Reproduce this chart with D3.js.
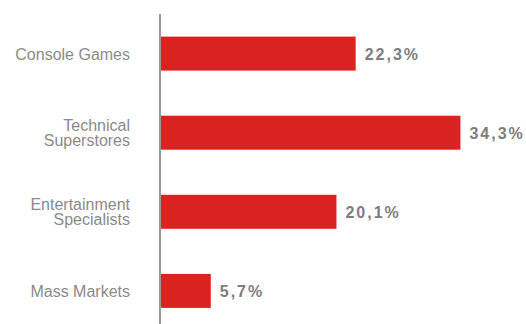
<!DOCTYPE html>
<html>
<head>
<meta charset="utf-8">
<script src="https://cdn.jsdelivr.net/npm/d3@7/dist/d3.min.js"></script>
<style>
  html, body { margin: 0; padding: 0; background: #fff; }
  svg { display: block; }
</style>
</head>
<body>
<div id="chart"></div>
<script>
// Market share by retail channel
const categories = [
  ["Console Games"],
  ["Technical", "Superstores"],
  ["Entertainment", "Specialists"],
  ["Mass Markets"]
];
const categoryKeys = ["Console Games", "Technical Superstores", "Entertainment Specialists", "Mass Markets"];
const shares = [22.3, 34.3, 20.1, 5.7];
const shareLabels = ["22,3%", "34,3%", "20,1%", "5,7%"];

const width = 526, height = 324;
const axisX = 160;

const svg = d3.select("#chart").append("svg")
  .attr("width", width)
  .attr("height", height);

const x = d3.scaleLinear()
  .domain([0, 10])
  .range([axisX + 1, axisX + 1 + 87.3]);

const y = d3.scaleBand()
  .domain(categoryKeys)
  .range([36.6 - 22.55, 36.6 - 22.55 + 79.1 * 4])
  .paddingInner(45.1 / 79.1)
  .paddingOuter(22.55 / 79.1);

// bars
svg.append("g")
  .selectAll("rect")
  .data(shares)
  .join("rect")
  .attr("x", x(0))
  .attr("y", (d, i) => y(categoryKeys[i]))
  .attr("width", d => x(d) - x(0))
  .attr("height", y.bandwidth())
  .attr("fill", "#d92320");

// vertical baseline
svg.append("line")
  .attr("x1", axisX).attr("x2", axisX)
  .attr("y1", 14).attr("y2", height)
  .attr("stroke", "#9a9a9a")
  .attr("stroke-width", 2);

// category labels
const catGroup = svg.append("g")
  .attr("font-family", "'Liberation Sans', Arial, sans-serif")
  .attr("font-size", 16)
  .attr("fill", "#8a8a8a")
  .attr("text-anchor", "end");

categories.forEach((lines, i) => {
  const cy = y(categoryKeys[i]) + y.bandwidth() / 2;
  const lh = 14.8;
  const t = catGroup.append("text")
    .attr("x", 130)
    .attr("y", cy - (lines.length - 1) * lh / 2 + 6);
  lines.forEach((ln, j) => {
    t.append("tspan")
      .attr("x", 130)
      .attr("dy", j === 0 ? 0 : lh)
      .text(ln);
  });
});

// value labels
svg.append("g")
  .selectAll("text")
  .data(shares)
  .join("text")
  .attr("x", d => x(d) + 9)
  .attr("y", (d, i) => y(categoryKeys[i]) + y.bandwidth() / 2 + 6)
  .attr("font-family", "'Liberation Sans', Arial, sans-serif")
  .attr("font-size", 16)
  .attr("font-weight", "bold")
  .attr("letter-spacing", "2px")
  .attr("fill", "#7d7d7d")
  .text((d, i) => shareLabels[i]);
</script>
</body>
</html>
